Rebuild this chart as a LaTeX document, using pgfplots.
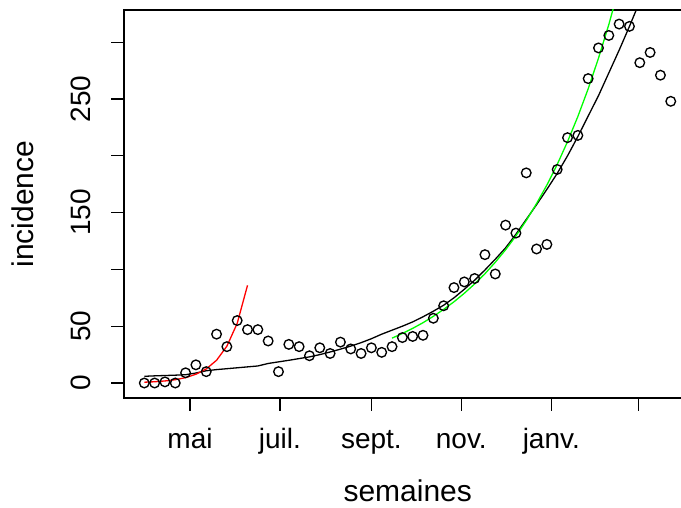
\documentclass[border=0pt]{standalone}
\usepackage{pgfplots}
\pgfplotsset{compat=1.18}
\usepackage{fontspec}
\setmainfont{Liberation Sans}
\definecolor{rgreen}{RGB}{0,255,0}
\definecolor{rred}{RGB}{255,0,0}
\begin{document}
\begin{tikzpicture}
\begin{axis}[
  at={(0,0)}, anchor=south west,
  scale only axis, width=567.4bp, height=388bp,
  xmin=-44.76, xmax=340.0, ymin=-13.2, ymax=328.4,
  axis line style={line width=1.2bp},
  xtick={0,61,123,184,245,304},
  xticklabels={mai,juil.,sept.,nov.,janv.,},
  ytick={0,50,100,150,200,250,300},
  yticklabels={0,50,,150,,250,},
  tick align=outside, xtick pos=left, ytick pos=left,
  major tick length=12.5bp,
  tick style={line width=1.2bp, black},
  tick label style={font=\fontsize{28bp}{30bp}\selectfont},
  xticklabel style={anchor=base, inner sep=0pt},
  xticklabel shift=37.8bp,
  yticklabel style={rotate=90, anchor=south, inner sep=0pt},
  yticklabel shift=20.8bp,
  xlabel={semaines}, ylabel={incidence},
  label style={font=\fontsize{30bp}{32bp}\selectfont},
  xlabel style={at={(axis description cs:0.5,-0.2655)}, anchor=base, inner sep=0pt},
  ylabel style={at={(axis description cs:-0.1599,0.5)}, anchor=base, inner sep=0pt},
  clip=true,
]
% observed weekly incidence
\addplot[only marks, mark=o, mark size=4.8bp, mark options={line width=1.35bp, black}] coordinates {
(-31,0) (-24,0) (-17,1) (-10,0) (-3,9) (4,16) (11,10) (18,43) (25,32) (32,55)
(39,47) (46,47) (53,37) (60,10) (67,34) (74,32) (81,24) (88,31) (95,26) (102,36)
(109,30) (116,26) (123,31) (130,27) (137,32) (144,40) (151,41) (158,42) (165,57) (172,68)
(179,84) (186,89) (193,92) (200,113) (207,96) (214,139) (221,132) (228,185) (235,118) (242,122)
(249,188) (256,216) (263,218) (270,268) (277,295) (284,306) (291,316) (298,314) (305,282) (312,291)
(319,271) (326,248)
};
% overall fit (black)
\addplot[black, line width=1.3bp] coordinates {
(-31,5.9) (-24,6.3) (-17,6.6) (-10,6.9) (-3,7.3) (4,8.8) (11,10.8) (18,11.8) (25,12.6) (32,13.4)
(39,14.2) (46,15.0) (53,17.2) (60,18.6) (67,20.0) (74,21.5) (81,23.0) (88,25.0) (95,27.3) (102,29.8)
(109,32.5) (116,35.5) (123,39.0) (130,43.0) (137,46.5) (144,50.0) (151,53.8) (158,58.3) (165,63.2) (172,68.5)
(179,75) (186,82.5) (193,90.5) (200,99.5) (207,109) (214,119) (221,131) (228,144) (235,157) (242,170.5)
(249,184.5) (256,200) (263,217) (270,235) (277,253) (284,273) (291,293) (298,314) (305,336)
};
% first wave fit (red)
\addplot[rred, line width=1.3bp] coordinates {
(-31,0.7) (-24,1.1) (-17,1.8) (-10,2.9) (-3,4.7) (4,7.7) (11,12.4) (18,20.0) (25,32.4) (32,52.5) (39,86)
};
% second wave fit (green)
\addplot[rgreen, line width=1.3bp] coordinates {
(137,39.5) (144,43.6) (151,48.1) (158,53.1) (165,58.7) (172,64.8) (179,71.5) (186,79.0) (193,87.2) (200,96.2)
(207,106.3) (214,117.3) (221,129.5) (228,143) (235,158) (242,174.3) (249,192.4) (256,212.5) (263,234.6) (270,259)
(277,286) (284,315.6) (291,348.5)
};
\end{axis}
\pgfresetboundingbox
\useasboundingbox (-124bp,-110bp) rectangle (557bp,398bp);
\end{tikzpicture}
\end{document}
